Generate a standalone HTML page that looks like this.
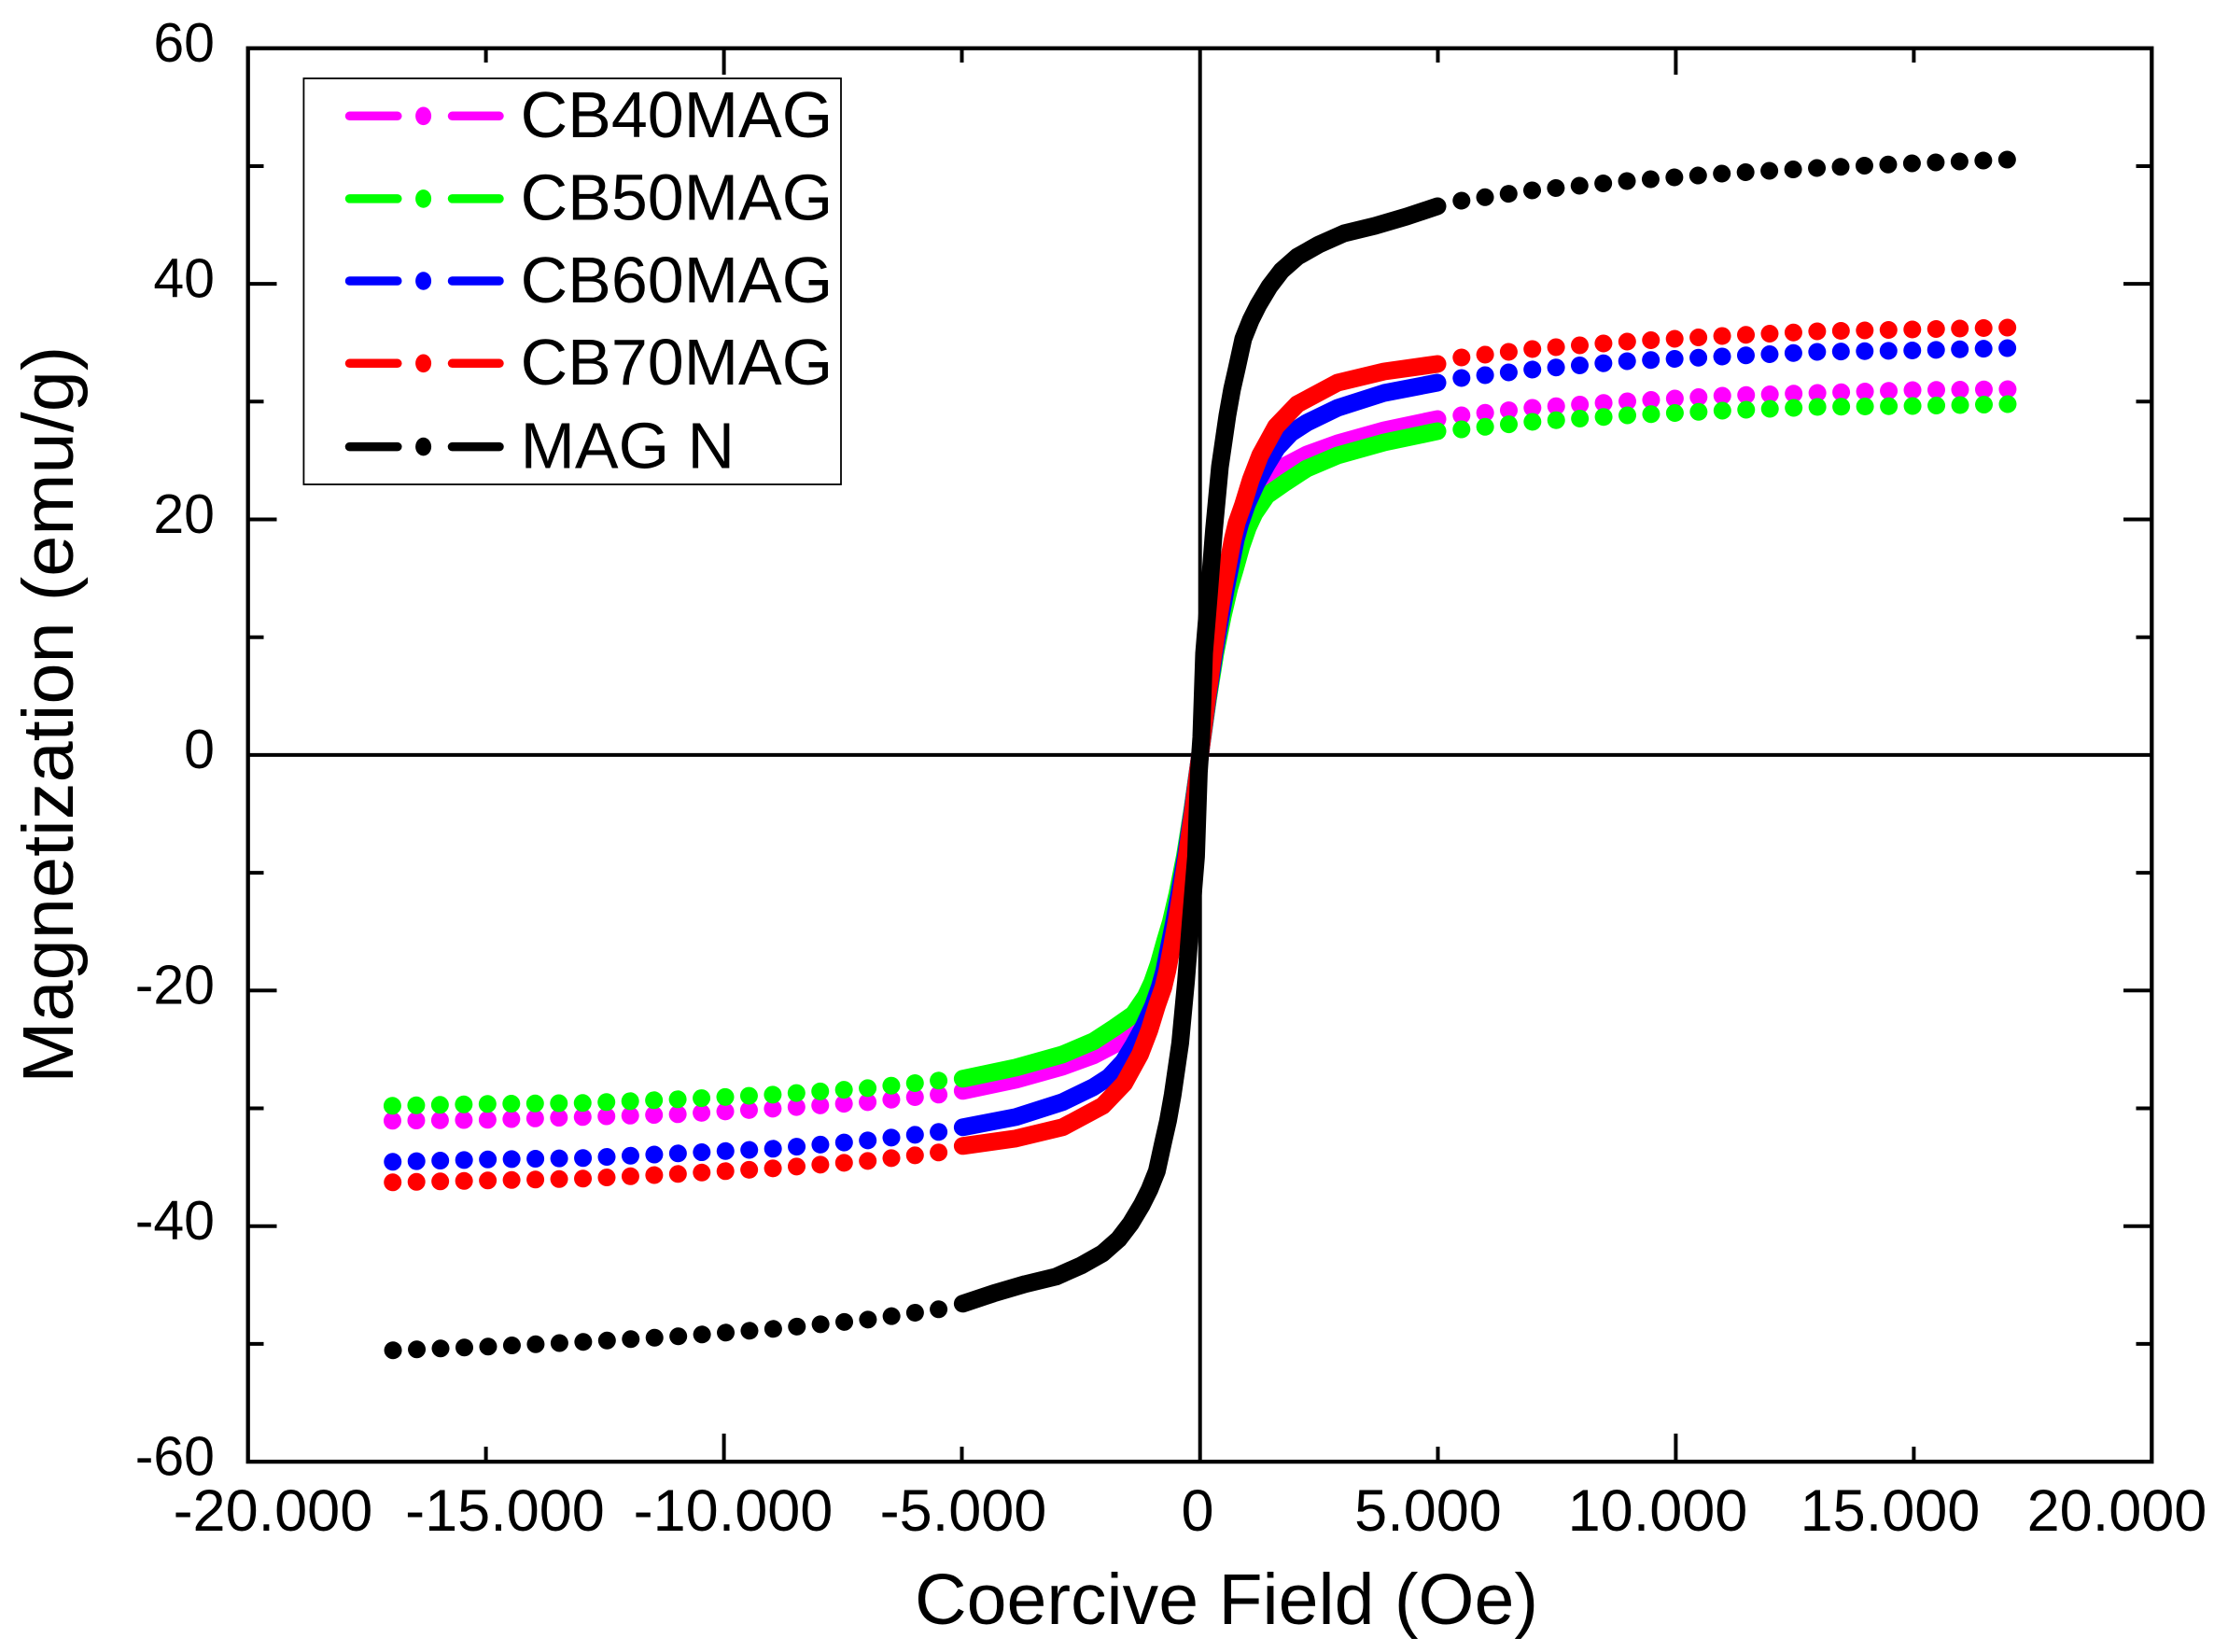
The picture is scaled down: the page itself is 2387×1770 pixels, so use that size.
<!DOCTYPE html>
<html>
<head>
<meta charset="utf-8">
<style>
html,body{margin:0;padding:0;background:#fff;}
svg{display:block;}
text{font-family:"Liberation Sans",Arial,sans-serif;fill:#000;}
</style>
</head>
<body>
<svg width="2387" height="1770" viewBox="0 0 2387 1770" xmlns="http://www.w3.org/2000/svg">
<rect x="0" y="0" width="2387" height="1770" fill="#fff"/>

<!-- zero lines -->
<line x1="1285.7" y1="51.7" x2="1285.7" y2="1566" stroke="#000" stroke-width="4"/>
<line x1="265.7" y1="808.9" x2="2305.3" y2="808.9" stroke="#000" stroke-width="4"/>

<!-- data series -->
<g fill="none" stroke-linecap="round" stroke-linejoin="round" stroke-width="19">
  <!-- CB40MAG magenta -->
  <g id="sm" stroke="#ff00ff">
    <path d="M1285.7,808.9 L1294,750 L1301.5,700 L1309,660 L1315,630 L1320,610 L1326,590 L1333,568 L1341,548 L1350,528 L1363,510 L1377,499 L1400,487 L1433,475 L1483,461 L1540,449"/>
    <path d="M1565.8,445 L1641,437 L1743,430 L1845,424 L1947,421 L2049,418 L2151.4,417" stroke-dasharray="0.001 25.48"/>
  </g>
  <use href="#sm" transform="rotate(180 1285.7 808.9)"/>
  <!-- CB50MAG green -->
  <g id="sg" stroke="#00ff00">
    <path d="M1285.7,808.9 L1294,750 L1302,700 L1310,660 L1317,630 L1323,610 L1330,585 L1337,565 L1344,550 L1357,531 L1377,517 L1400,502 L1433,488 L1483,474 L1540,462"/>
    <path d="M1565.8,460 L1641,452 L1743,445 L1845,440 L1947,436 L2049,435 L2151.4,433" stroke-dasharray="0.001 25.48"/>
  </g>
  <use href="#sg" transform="rotate(180 1285.7 808.9)"/>
  <!-- CB60MAG blue -->
  <g id="sb" stroke="#0000ff">
    <path d="M1285.7,808.9 L1293.5,750 L1301,700 L1308,660 L1313.5,630 L1319,603 L1324,578 L1329,560 L1336,540 L1346,518 L1357,498 L1368,480 L1383,464 L1400,453 L1433,437 L1483,421 L1540,410"/>
    <path d="M1565.8,405 L1641,396 L1743,387 L1845,382 L1947,377 L2049,375.5 L2151.4,373" stroke-dasharray="0.001 25.48"/>
  </g>
  <use href="#sb" transform="rotate(180 1285.7 808.9)"/>
  <!-- CB70MAG red -->
  <g id="sr" stroke="#ff0000">
    <path d="M1285.7,808.9 L1293,750 L1300,700 L1306,660 L1311,630 L1316,603 L1320.7,578 L1325,560 L1331.7,541 L1340,514 L1350,488 L1367,457 L1390,433 L1433,410 L1483,398 L1540,390"/>
    <path d="M1565.8,383 L1641,374 L1743,366 L1845,360 L1947,355 L2049,353 L2151.4,351" stroke-dasharray="0.001 25.48"/>
  </g>
  <use href="#sr" transform="rotate(180 1285.7 808.9)"/>
  <!-- MAG N black -->
  <g id="sk" stroke="#000000">
    <path d="M1285.7,808.9 L1287,790 L1290,700 L1295.5,633 L1300.7,567 L1307,500 L1315,445 L1320,417 L1325,395 L1332,363 L1340,343 L1348,327 L1360,307 L1373,290 L1390,275 L1413,262 L1440,250 L1473,242 L1507,232 L1540,221"/>
    <path d="M1565.8,215 L1641,204 L1743,194 L1845,186 L1947,180 L2049,175 L2151.4,171" stroke-dasharray="0.001 25.5"/>
  </g>
  <use href="#sk" transform="rotate(180 1285.7 808.9)"/>
</g>

<!-- frame -->
<rect x="265.7" y="51.7" width="2039.6" height="1514.4" fill="none" stroke="#000" stroke-width="4.3"/>

<!-- ticks -->
<g stroke="#000" stroke-width="4">
  <!-- bottom -->
  <line x1="775.6" y1="1566" x2="775.6" y2="1536"/>
  <line x1="1795.4" y1="1566" x2="1795.4" y2="1536"/>
  <line x1="520.6" y1="1566" x2="520.6" y2="1550"/>
  <line x1="1030.5" y1="1566" x2="1030.5" y2="1550"/>
  <line x1="1540.5" y1="1566" x2="1540.5" y2="1550"/>
  <line x1="2050.4" y1="1566" x2="2050.4" y2="1550"/>
  <!-- top -->
  <line x1="775.6" y1="51.7" x2="775.6" y2="80"/>
  <line x1="1795.4" y1="51.7" x2="1795.4" y2="80"/>
  <line x1="520.6" y1="51.7" x2="520.6" y2="67"/>
  <line x1="1030.5" y1="51.7" x2="1030.5" y2="67"/>
  <line x1="1540.5" y1="51.7" x2="1540.5" y2="67"/>
  <line x1="2050.4" y1="51.7" x2="2050.4" y2="67"/>
  <!-- left -->
  <line x1="265.7" y1="304.1" x2="296.5" y2="304.1"/>
  <line x1="265.7" y1="556.5" x2="296.5" y2="556.5"/>
  <line x1="265.7" y1="1061.3" x2="296.5" y2="1061.3"/>
  <line x1="265.7" y1="1313.7" x2="296.5" y2="1313.7"/>
  <line x1="265.7" y1="178" x2="282.5" y2="178"/>
  <line x1="265.7" y1="430.3" x2="282.5" y2="430.3"/>
  <line x1="265.7" y1="682.7" x2="282.5" y2="682.7"/>
  <line x1="265.7" y1="935.1" x2="282.5" y2="935.1"/>
  <line x1="265.7" y1="1187.5" x2="282.5" y2="1187.5"/>
  <line x1="265.7" y1="1439.9" x2="282.5" y2="1439.9"/>
  <!-- right -->
  <line x1="2305.3" y1="304.1" x2="2275" y2="304.1"/>
  <line x1="2305.3" y1="556.5" x2="2275" y2="556.5"/>
  <line x1="2305.3" y1="1061.3" x2="2275" y2="1061.3"/>
  <line x1="2305.3" y1="1313.7" x2="2275" y2="1313.7"/>
  <line x1="2305.3" y1="178" x2="2288.5" y2="178"/>
  <line x1="2305.3" y1="430.3" x2="2288.5" y2="430.3"/>
  <line x1="2305.3" y1="682.7" x2="2288.5" y2="682.7"/>
  <line x1="2305.3" y1="935.1" x2="2288.5" y2="935.1"/>
  <line x1="2305.3" y1="1187.5" x2="2288.5" y2="1187.5"/>
  <line x1="2305.3" y1="1439.9" x2="2288.5" y2="1439.9"/>
</g>

<!-- y tick labels -->
<g font-size="59" text-anchor="end">
  <text x="230" y="66">60</text>
  <text x="230" y="318.4">40</text>
  <text x="230" y="570.8">20</text>
  <text x="230" y="823.2">0</text>
  <text x="230" y="1075.6">-20</text>
  <text x="230" y="1328">-40</text>
  <text x="230" y="1580.4">-60</text>
</g>

<!-- x tick labels -->
<g font-size="63" text-anchor="middle">
  <text x="292.4" y="1640">-20.000</text>
  <text x="541" y="1640">-15.000</text>
  <text x="785.5" y="1640">-10.000</text>
  <text x="1032" y="1640">-5.000</text>
  <text x="1283" y="1640">0</text>
  <text x="1530" y="1640">5.000</text>
  <text x="1776" y="1640">10.000</text>
  <text x="2025" y="1640">15.000</text>
  <text x="2268" y="1640">20.000</text>
</g>

<!-- axis titles -->
<text x="980" y="1740" font-size="77" textLength="668" lengthAdjust="spacingAndGlyphs">Coercive Field (Oe)</text>
<text transform="translate(78 765.7) rotate(-90)" font-size="77" text-anchor="middle" textLength="790" lengthAdjust="spacingAndGlyphs">Magnetization (emu/g)</text>

<!-- legend -->
<rect x="325.4" y="84" width="575.6" height="435" fill="#fff" stroke="#000" stroke-width="1.8"/>
<g stroke-linecap="round" stroke-width="9.5">
  <line x1="374.5" y1="124.3" x2="425.8" y2="124.3" stroke="#ff00ff"/>
  <line x1="484.5" y1="124.3" x2="535" y2="124.3" stroke="#ff00ff"/>
  <line x1="374.5" y1="212.9" x2="425.8" y2="212.9" stroke="#00ff00"/>
  <line x1="484.5" y1="212.9" x2="535" y2="212.9" stroke="#00ff00"/>
  <line x1="374.5" y1="301" x2="425.8" y2="301" stroke="#0000ff"/>
  <line x1="484.5" y1="301" x2="535" y2="301" stroke="#0000ff"/>
  <line x1="374.5" y1="389.3" x2="425.8" y2="389.3" stroke="#ff0000"/>
  <line x1="484.5" y1="389.3" x2="535" y2="389.3" stroke="#ff0000"/>
  <line x1="374.5" y1="478.6" x2="425.8" y2="478.6" stroke="#000000"/>
  <line x1="484.5" y1="478.6" x2="535" y2="478.6" stroke="#000000"/>
</g>
<ellipse cx="453.6" cy="124.3" rx="8.5" ry="9.8" fill="#ff00ff"/>
<ellipse cx="453.6" cy="212.9" rx="8.5" ry="9.8" fill="#00ff00"/>
<ellipse cx="453.6" cy="301" rx="8.5" ry="9.8" fill="#0000ff"/>
<ellipse cx="453.6" cy="389.3" rx="8.5" ry="9.8" fill="#ff0000"/>
<ellipse cx="453.6" cy="478.6" rx="8.5" ry="9.8" fill="#000000"/>
<g font-size="70">
  <text x="557.6" y="147.1">CB40MAG</text>
  <text x="557.6" y="235.7">CB50MAG</text>
  <text x="557.6" y="323.8">CB60MAG</text>
  <text x="557.6" y="412.1">CB70MAG</text>
  <text x="557.6" y="501.5">MAG N</text>
</g>
</svg>
</body>
</html>
